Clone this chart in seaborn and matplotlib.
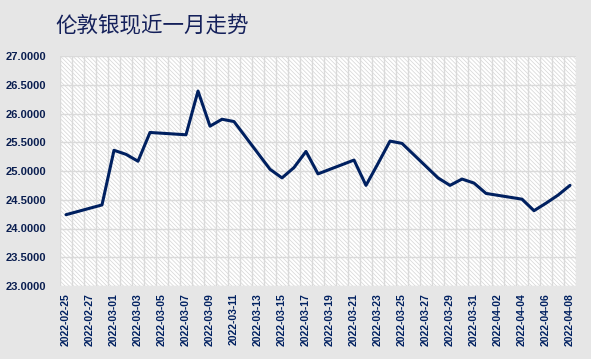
import matplotlib
matplotlib.use("Agg")
import matplotlib.pyplot as plt
import matplotlib.dates as mdates
from matplotlib.patches import Rectangle
import numpy as np
import pandas as pd
import seaborn as sns

dates = ["2022-02-25", "2022-02-28", "2022-03-01", "2022-03-02", "2022-03-03",
         "2022-03-04", "2022-03-07", "2022-03-08", "2022-03-09", "2022-03-10",
         "2022-03-11", "2022-03-14", "2022-03-15", "2022-03-16", "2022-03-17",
         "2022-03-18", "2022-03-21", "2022-03-22", "2022-03-23", "2022-03-24",
         "2022-03-25", "2022-03-28", "2022-03-29", "2022-03-30", "2022-03-31",
         "2022-04-01", "2022-04-04", "2022-04-05", "2022-04-06", "2022-04-07",
         "2022-04-08"]
prices = [24.24, 24.41, 25.36, 25.29, 25.17,
          25.67, 25.63, 26.39, 25.78, 25.90,
          25.86, 25.03, 24.88, 25.06, 25.34,
          24.95, 25.19, 24.75, 25.13, 25.52,
          25.48, 24.88, 24.75, 24.86, 24.79,
          24.61, 24.51, 24.31, 24.44, 24.58,
          24.75]
title = "伦敦银现近一月走势"
y_ticks = [23.0, 23.5, 24.0, 24.5, 25.0, 25.5, 26.0, 26.5, 27.0]

sns.set_theme(style="white")
plt.rcParams['font.family'] = ['Liberation Sans', 'DejaVu Sans']
plt.rcParams['hatch.linewidth'] = 0.5
plt.rcParams['hatch.color'] = '#d4d4d4'

df = pd.DataFrame({"date": pd.to_datetime(dates), "price": prices})

bg = '#e6e6e6'
navy = '#002060'
fig = plt.figure(figsize=(5.91, 3.59), dpi=100, facecolor=bg)
ax = fig.add_axes([60/591, 1-286/359, (576-60)/591, (286-56)/359])
ax.set_facecolor('white')

# hatch background
ax.add_patch(Rectangle((0, 0), 1, 1, transform=ax.transAxes, facecolor='white',
                       edgecolor='#d4d4d4', hatch='\\' * 8, linewidth=0, zorder=0))

sns.lineplot(data=df, x="date", y="price", ax=ax, color=navy, linewidth=2.2, zorder=3)

start = df["date"].iloc[0]
end = df["date"].iloc[-1]
x0 = mdates.date2num(start) - 0.5
x1 = mdates.date2num(end) + 0.5
ax.set_xlim(x0, x1)
ax.set_ylim(23, 27)

ndays = int(round(x1 - x0))
major = [mdates.date2num(start) + k for k in range(0, ndays, 2)]
minor = [x0 + k for k in range(0, ndays + 1)]
ax.set_xticks(major)
ax.set_xticklabels([mdates.num2date(m).strftime('%Y-%m-%d') for m in major],
                   rotation=90, fontsize=7.5, fontweight='bold', color=navy)
ax.set_xticks(minor, minor=True)
ax.set_yticks(y_ticks)
ax.set_yticklabels([f"{v:.4f}" for v in y_ticks], fontsize=8, fontweight='bold', color='#0a1e50')

ax.grid(False)
ax.grid(True, which='minor', axis='x', color='#dadada', linewidth=1.0, zorder=1)
ax.grid(True, which='major', axis='y', color='#dadada', linewidth=1.0, zorder=1)
ax.set_axisbelow(True)
ax.tick_params(axis='both', which='both', length=0)
ax.tick_params(axis='x', pad=5)
ax.tick_params(axis='y', pad=10)
for s in ax.spines.values():
    s.set_visible(False)
ax.set_xlabel("")
ax.set_ylabel("")

fig.text(55/591, 1-26/359, title, fontsize=15.5, color='#14205a', va='center', ha='left',
         family=['Noto Sans CJK SC', 'DejaVu Sans'])

fig.savefig("out.png", dpi=100, facecolor=bg)
